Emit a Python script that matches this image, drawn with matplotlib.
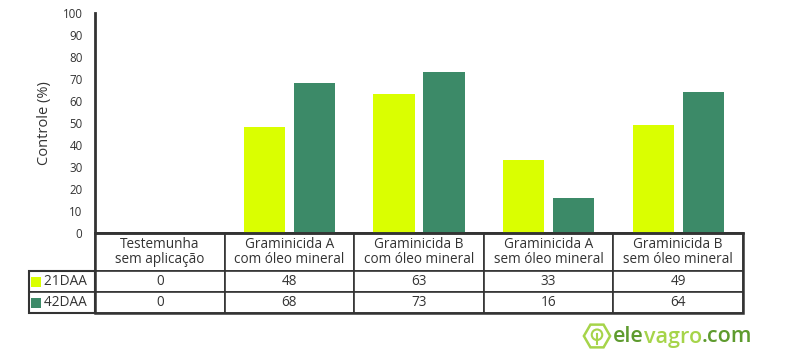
import matplotlib
matplotlib.use("Agg")
import matplotlib.pyplot as plt
from matplotlib.table import Table
from matplotlib.patches import Rectangle, RegularPolygon, Circle
import matplotlib.offsetbox as ob
import numpy as np

categories = ["Testemunha\nsem aplicação", "Graminicida A\ncom óleo mineral",
              "Graminicida B\ncom óleo mineral", "Graminicida A\nsem óleo mineral",
              "Graminicida B\nsem óleo mineral"]
series_names = ["21DAA", "42DAA"]
daa21 = [0, 48, 63, 33, 49]
daa42 = [0, 68, 73, 16, 64]
yticks = list(range(0, 101, 10))

c_yellow = "#DAFF00"
c_green = "#3C8A68"
c_text = "#333333"
c_line = "#333333"

plt.rcParams['font.family'] = ['Open Sans', 'DejaVu Sans']

W, H = 790, 359
fig = plt.figure(figsize=(W / 100, H / 100), dpi=100)
x0, x1, y0, y1 = 95, 743, 233, 13
ax = fig.add_axes([x0 / W, 1 - y0 / H, (x1 - x0) / W, (y0 - y1) / H])

n = len(categories)
x = np.arange(n)
bw = 0.317
off = 0.193
ax.bar(x - off, daa21, bw, color=c_yellow, zorder=2)
ax.bar(x + off, daa42, bw, color=c_green, zorder=2)
ax.set_xlim(-0.5, n - 0.5)
ax.set_ylim(0, 100)
ax.set_yticks(yticks)
ax.set_xticks([])
ax.tick_params(axis='y', length=0, pad=9, labelsize=8.3, labelcolor=c_text)
for s in ['top', 'right']:
    ax.spines[s].set_visible(False)
ax.spines['left'].set_linewidth(2)
ax.spines['left'].set_color(c_line)
ax.spines['bottom'].set_linewidth(1.8)
ax.spines['bottom'].set_color(c_line)
ax.set_ylabel("Controle (%)", fontsize=10.5, color=c_text, labelpad=8)

# Table below the axes
axw = x1 - x0
axh = y0 - y1
hdr_h = 38 / axh
row_h = 21 / axh
lab_w = 66 / axw
col_w = 1.0 / n
fs = 9.8

tab = Table(ax, loc='bottom')
tab.auto_set_font_size(False)
for j, cat in enumerate(categories):
    c = tab.add_cell(0, j, col_w, hdr_h, text=cat, loc='center', edgecolor=c_line)
    c.get_text().set_fontsize(fs)
    c.get_text().set_color(c_text)
    c.get_text().set_linespacing(0.92)
    c.set_linewidth(1.2)
rows = [daa21, daa42]
for i, (name, vals) in enumerate(zip(series_names, rows), start=1):
    c = tab.add_cell(i, -1, lab_w, row_h, text="    " + name, loc='left', edgecolor=c_line)
    c.get_text().set_fontsize(fs)
    c.get_text().set_color(c_text)
    c.set_linewidth(1.2)
    c.PAD = 0.02
    for j, v in enumerate(vals):
        c = tab.add_cell(i, j, col_w, row_h, text=str(v), loc='center', edgecolor=c_line)
        c.get_text().set_fontsize(fs)
        c.get_text().set_color(c_text)
        c.set_linewidth(1.2)
ax.add_table(tab)

# thicker outer border of the value area
tot_h = hdr_h + 2 * row_h
ax.add_patch(Rectangle((0, -tot_h), 1, tot_h, transform=ax.transAxes, fill=False,
                       edgecolor=c_line, linewidth=1.8, clip_on=False, zorder=5))
ax.add_patch(Rectangle((-lab_w, -tot_h), lab_w, 2 * row_h, transform=ax.transAxes, fill=False,
                       edgecolor=c_line, linewidth=1.5, clip_on=False, zorder=5))

# colour squares in row labels
sq = 10
for i, col in enumerate([c_yellow, c_green]):
    cy = y0 + 38 + i * 21 + 10.5
    fig.patches.append(Rectangle((31 / W, 1 - (cy + sq / 2) / H), sq / W, sq / H,
                                 transform=fig.transFigure, facecolor=col, edgecolor='none'))

# logo
logo_ax = fig.add_axes([582 / W, 1 - 351 / H, 30 / W, 30 / H])
logo_ax.set_xlim(-1.2, 1.2); logo_ax.set_ylim(-1.2, 1.2); logo_ax.axis('off')
logo_ax.add_patch(RegularPolygon((0, 0), numVertices=6, radius=1.05, orientation=np.pi / 6,
                                 facecolor='none', edgecolor='#A6D44A', linewidth=1.8))
logo_ax.add_patch(Circle((0, 0.1), 0.42, facecolor='none', edgecolor='#A6D44A', linewidth=1.5))
logo_ax.plot([0, 0], [-0.6, 0.2], color='#A6D44A', lw=1.5)
parts = [("ele", "#5E9B2E"), ("vagro", "#A6D44A"), (".com", "#5E9B2E")]
boxes = [ob.TextArea(t, textprops=dict(color=c, fontsize=15.5, fontweight='semibold')) for t, c in parts]
pack = ob.HPacker(children=boxes, pad=0, sep=0)
ab = ob.AnchoredOffsetbox(loc='center left', child=pack, pad=0, frameon=False,
                          bbox_to_anchor=(613 / W, 1 - 337 / H), bbox_transform=fig.transFigure,
                          borderpad=0)
fig.add_artist(ab)

fig.savefig("out.png", dpi=100)
